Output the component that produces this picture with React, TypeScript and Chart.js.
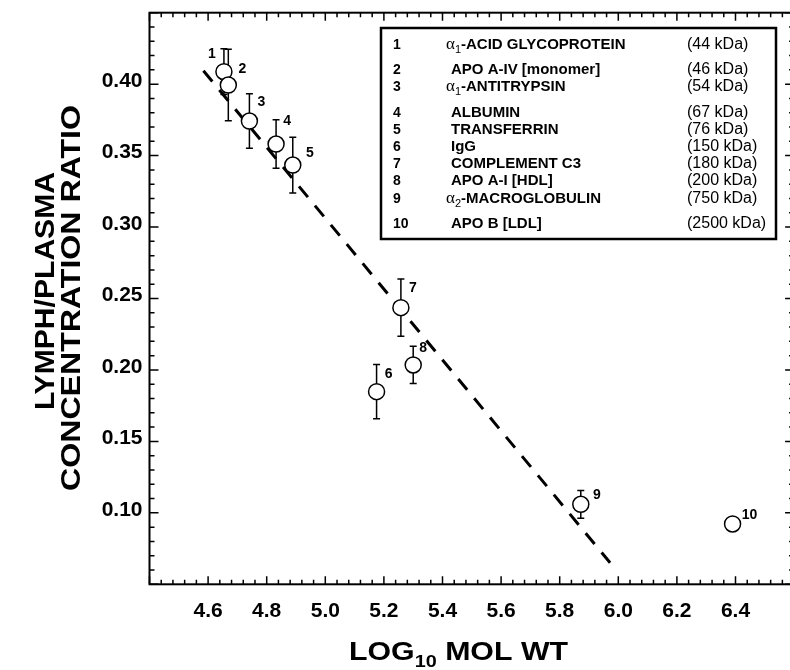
import React, { useEffect, useRef } from "react";
import { Chart, registerables } from "chart.js";

Chart.register(...registerables);

// ---------------- data ----------------
const proteinIds = ["1", "2", "3", "4", "5", "6", "7", "8", "9", "10"];
const logMolWt = [4.654, 4.669, 4.741, 4.832, 4.889, 5.175, 5.258, 5.3, 5.872, 6.39];
const lymphPlasmaRatio = [0.4087, 0.3994, 0.3742, 0.3581, 0.3434, 0.1848, 0.2436, 0.2035, 0.106, 0.0922];
const ratioError = [0.016, 0.025, 0.019, 0.017, 0.0195, 0.019, 0.02, 0.013, 0.0097, 0];

const fitLineX = [4.584, 5.972];
const fitLineY = [0.4094, 0.0651];

const xTickLabels = ["4.6", "4.8", "5.0", "5.2", "5.4", "5.6", "5.8", "6.0", "6.2", "6.4"];
const yTickLabels = ["0.10", "0.15", "0.20", "0.25", "0.30", "0.35", "0.40"];

const legendNames = [
  "α1-ACID GLYCOPROTEIN",
  "APO A-IV [monomer]",
  "α1-ANTITRYPSIN",
  "ALBUMIN",
  "TRANSFERRIN",
  "IgG",
  "COMPLEMENT C3",
  "APO A-I [HDL]",
  "α2-MACROGLOBULIN",
  "APO B [LDL]",
];
const legendMass = [
  "(44 kDa)",
  "(46 kDa)",
  "(54 kDa)",
  "(67 kDa)",
  "(76 kDa)",
  "(150 kDa)",
  "(180 kDa)",
  "(200 kDa)",
  "(750 kDa)",
  "(2500 kDa)",
];

// label offsets (px) of the point numbers relative to each marker
const labelDx = [-12, 14, 12, 11, 17, 12, 12, 10, 16, 17];
const labelDy = [-18, -16, -19, -23, -12, -18, -20, -17, -9, -9];

const X_MIN = 4.4;
const X_MAX = 6.6;
const Y_MIN = 0.05;
const Y_MAX = 0.45;
const X_MINOR = 0.04;
const Y_MINOR = 0.01;

const SANS = "'Liberation Sans', Arial, Helvetica, sans-serif";
const SERIF = "'Liberation Serif', 'Times New Roman', serif";

type Seg = { text: string; font: string; dy?: number };

function drawSegs(ctx: CanvasRenderingContext2D, segs: Seg[], x: number, y: number, targetWidth?: number, align: "left" | "center" = "left") {
  ctx.save();
  ctx.textAlign = "left";
  ctx.textBaseline = "alphabetic";
  let natural = 0;
  const widths = segs.map((s) => {
    ctx.font = s.font;
    const w = ctx.measureText(s.text).width;
    natural += w;
    return w;
  });
  const sx = targetWidth ? targetWidth / natural : 1;
  ctx.translate(x, y);
  ctx.scale(sx, 1);
  let cx = align === "center" ? -natural / 2 : 0;
  segs.forEach((s, i) => {
    ctx.font = s.font;
    ctx.fillText(s.text, cx, s.dy || 0);
    cx += widths[i];
  });
  ctx.restore();
}

const framePlugin = {
  id: "framePlugin",
  beforeDatasetsDraw(chart: any) {
    const ctx: CanvasRenderingContext2D = chart.ctx;
    const xs = chart.scales.x;
    const ys = chart.scales.y;
    ctx.save();
    ctx.strokeStyle = "#000";
    ctx.lineWidth = 1.5;
    logMolWt.forEach((xv, i) => {
      const e = ratioError[i];
      if (!e) return;
      const px = xs.getPixelForValue(xv);
      const top = ys.getPixelForValue(lymphPlasmaRatio[i] + e);
      const bot = ys.getPixelForValue(lymphPlasmaRatio[i] - e);
      ctx.beginPath();
      ctx.moveTo(px, top);
      ctx.lineTo(px, bot);
      ctx.moveTo(px - 3.5, top);
      ctx.lineTo(px + 3.5, top);
      ctx.moveTo(px - 3.5, bot);
      ctx.lineTo(px + 3.5, bot);
      ctx.stroke();
    });
    ctx.restore();
  },
  afterDraw(chart: any) {
    const ctx: CanvasRenderingContext2D = chart.ctx;
    const a = chart.chartArea;
    const xs = chart.scales.x;
    const ys = chart.scales.y;
    ctx.save();
    ctx.strokeStyle = "#000";
    ctx.fillStyle = "#000";
    ctx.lineWidth = 2;
    ctx.strokeRect(a.left, a.top, a.right - a.left, a.bottom - a.top);
    ctx.lineWidth = 1.5;
    ctx.beginPath();
    const nx = Math.round((X_MAX - X_MIN) / X_MINOR);
    for (let k = 0; k <= nx; k++) {
      const px = xs.getPixelForValue(X_MIN + k * X_MINOR);
      const len = k % 5 === 0 ? 8 : 4.5;
      ctx.moveTo(px, a.bottom);
      ctx.lineTo(px, a.bottom - len);
      ctx.moveTo(px, a.top);
      ctx.lineTo(px, a.top + len);
    }
    const ny = Math.round((Y_MAX - Y_MIN) / Y_MINOR);
    for (let k = 0; k <= ny; k++) {
      const py = ys.getPixelForValue(Y_MIN + k * Y_MINOR);
      const len = k % 5 === 0 ? 9 : 5;
      ctx.moveTo(a.left, py);
      ctx.lineTo(a.left + len, py);
      ctx.moveTo(a.right, py);
      ctx.lineTo(a.right - len, py);
    }
    ctx.stroke();

    // tick labels
    ctx.font = `bold 21px ${SANS}`;
    ctx.textBaseline = "middle";
    ctx.textAlign = "center";
    xTickLabels.forEach((t) => {
      ctx.fillText(t, xs.getPixelForValue(parseFloat(t)), a.bottom + 27);
    });
    ctx.textAlign = "right";
    yTickLabels.forEach((t) => {
      ctx.fillText(t, a.left - 7, ys.getPixelForValue(parseFloat(t)) - 3);
    });

    // point number labels
    ctx.font = `bold 14px ${SANS}`;
    ctx.textAlign = "center";
    ctx.textBaseline = "middle";
    proteinIds.forEach((id, i) => {
      const px = xs.getPixelForValue(logMolWt[i]);
      const py = ys.getPixelForValue(lymphPlasmaRatio[i]);
      ctx.fillText(id, px + labelDx[i], py + labelDy[i]);
    });

    // legend box
    const bx = 381, by = 28, bw = 395, bh = 211;
    ctx.lineWidth = 2.5;
    ctx.fillStyle = "#fff";
    ctx.fillRect(bx, by, bw, bh);
    ctx.strokeRect(bx, by, bw, bh);
    ctx.fillStyle = "#000";
    let rowY = 44;
    legendNames.forEach((name, i) => {
      const base = rowY + 5;
      ctx.textAlign = "left";
      ctx.textBaseline = "alphabetic";
      ctx.font = `bold 14px ${SANS}`;
      ctx.fillText(proteinIds[i], 393, base);
      if (name.startsWith("α")) {
        drawSegs(ctx, [
          { text: "α", font: `17px ${SERIF}` },
          { text: name.charAt(1), font: `11px ${SANS}`, dy: 4 },
          { text: name.slice(2), font: `bold 15px ${SANS}` },
        ], 446, base);
      } else {
        ctx.font = `bold 15px ${SANS}`;
        ctx.fillText(name, 451, base);
      }
      ctx.font = `16px ${SANS}`;
      ctx.fillText(legendMass[i], 687, base);
      const sub = name.startsWith("α");
      rowY += sub ? 25.2 : 17.2;
    });

    // axis titles
    drawSegs(ctx, [
      { text: "LOG", font: `bold 26px ${SANS}` },
      { text: "10", font: `bold 17px ${SANS}`, dy: 7 },
      { text: " MOL WT", font: `bold 26px ${SANS}` },
    ], 349, 660, 219);

    ctx.save();
    ctx.translate(54, 291);
    ctx.rotate(-Math.PI / 2);
    drawSegs(ctx, [{ text: "LYMPH/PLASMA", font: `bold 28px ${SANS}` }], 0, 0, 238, "center");
    ctx.restore();
    ctx.save();
    ctx.translate(80, 298);
    ctx.rotate(-Math.PI / 2);
    drawSegs(ctx, [{ text: "CONCENTRATION RATIO", font: `bold 28px ${SANS}` }], 0, 0, 386, "center");
    ctx.restore();

    ctx.restore();
  },
};

export default function App() {
  const ref = useRef<HTMLCanvasElement | null>(null);
  useEffect(() => {
    if (!ref.current) return;
    const points = logMolWt.map((x, i) => ({ x, y: lymphPlasmaRatio[i] }));
    const fit = fitLineX.map((x, i) => ({ x, y: fitLineY[i] }));
    const chart = new Chart(ref.current, {
      type: "scatter",
      data: {
        datasets: [
          {
            label: "proteins",
            data: points,
            order: 0,
            pointRadius: 8,
            pointHoverRadius: 8,
            pointBorderWidth: 1.5,
            pointBackgroundColor: "#ffffff",
            pointBorderColor: "#000000",
            showLine: false,
          },
          {
            label: "fit",
            type: "line",
            data: fit,
            order: 1,
            borderColor: "#000000",
            borderWidth: 3,
            borderDash: [14, 11],
            pointRadius: 0,
            fill: false,
          } as any,
        ],
      },
      options: {
        responsive: false,
        animation: false,
        devicePixelRatio: 1,
        layout: { autoPadding: false, padding: { top: 12.7, right: 5.9, left: 0, bottom: 0 } },
        plugins: { legend: { display: false }, tooltip: { enabled: false }, title: { display: false } },
        scales: {
          x: {
            type: "linear",
            min: X_MIN,
            max: X_MAX,
            grid: { display: false, drawTicks: false },
            border: { display: false },
            afterFit: (s: any) => { s.height = 85.7; s.paddingLeft = 0; s.paddingRight = 0; },
            ticks: { display: false, stepSize: 0.2 },
          },
          y: {
            type: "linear",
            min: Y_MIN,
            max: Y_MAX,
            grid: { display: false, drawTicks: false },
            border: { display: false },
            afterFit: (s: any) => { s.width = 149.5; s.paddingTop = 0; s.paddingBottom = 0; },
            ticks: { display: false, stepSize: 0.05 },
          },
        },
      },
      plugins: [framePlugin],
    });
    return () => chart.destroy();
  }, []);
  return (
    <div style={{ position: "fixed", left: 0, top: 0, width: 790, height: 670, overflow: "hidden", background: "#fff" }}>
      <canvas ref={ref} width={800} height={670} style={{ display: "block", width: 800, height: 670 }} />
    </div>
  );
}
